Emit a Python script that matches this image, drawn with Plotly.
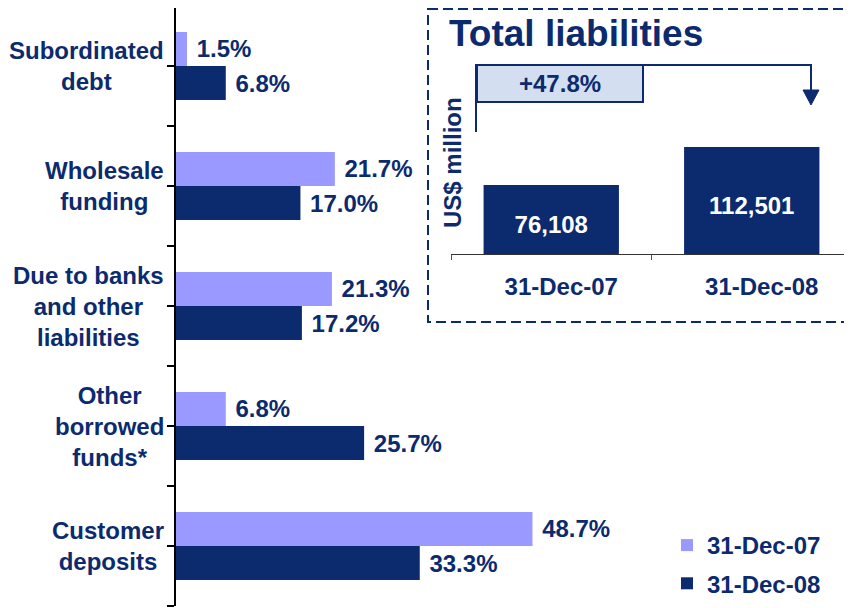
import plotly.graph_objects as go

# ---- data ----
categories = ["Subordinated<br>debt", "Wholesale<br>funding", "Due to banks<br>and other<br>liabilities",
              "Other<br>borrowed<br>funds*", "Customer<br>deposits"]
share_dec07 = [1.5, 21.7, 21.3, 6.8, 48.7]
share_dec08 = [6.8, 17.0, 17.2, 25.7, 33.3]
series_names = ["31-Dec-07", "31-Dec-08"]
total_dates = ["31-Dec-07", "31-Dec-08"]
total_liab = [76108, 112501]

NAVY = "#0C2A6E"
LIGHT = "#9999FF"
FONT = "Liberation Sans, Arial, sans-serif"

# page body has an 8px margin; the figure is sized to fill the rest of the window
OFF = 8
W, H = 852 - OFF, 608 - OFF
PLOT_L, PLOT_T, PLOT_B = 176, OFF, 606      # plot area edges in window pixels
PW, PH = 852 - PLOT_L, PLOT_B - PLOT_T

def px(x):
    return (x - PLOT_L) / PW

def py(y):
    return (PLOT_B - y) / PH

pos = list(range(len(categories)))
CAT_PX = 120.0

fig = go.Figure()
for name, vals, col in zip(series_names, [share_dec07, share_dec08], [LIGHT, NAVY]):
    fig.add_trace(go.Bar(
        y=pos, x=vals, orientation="h", name=name, legendgroup=name,
        marker=dict(color=col, line=dict(width=0)),
        text=[f" {v:.1f}%" for v in vals], textposition="outside",
        textfont=dict(family=FONT, size=24, color=NAVY, weight="bold"),
        constraintext="none", cliponaxis=False,
        xaxis="x", yaxis="y",
    ))

fig.add_trace(go.Bar(
    x=total_dates, y=total_liab, xaxis="x2", yaxis="y2", showlegend=False,
    marker=dict(color=NAVY, line=dict(width=0)), width=0.675,
    text=[f"{v:,}" for v in total_liab], textposition="inside", insidetextanchor="middle",
    textfont=dict(family=FONT, size=24, color="white", weight="bold"),
    constraintext="none",
))

ticks = [i * 0.5 - 0.5 for i in range(2 * len(categories) + 1)]

annotations = []
for p, c in zip(pos, categories):
    annotations.append(dict(
        x=px(166), xref="paper", y=p, yref="y", text=c, showarrow=False,
        xanchor="right", yanchor="middle", align="center",
        font=dict(family=FONT, size=24, color=NAVY, weight="bold"),
    ))

pct = (total_liab[1] / total_liab[0] - 1) * 100
annotations += [
    dict(x=px(447), y=py(34), xref="paper", yref="paper", text="Total liabilities",
         showarrow=False, xanchor="left", yanchor="middle",
         font=dict(family=FONT, size=37, color=NAVY, weight="bold")),
    dict(x=px(560), y=py(83), xref="paper", yref="paper", text=f"+{pct:.1f}%",
         showarrow=False, xanchor="center", yanchor="middle",
         font=dict(family=FONT, size=24, color=NAVY, weight="bold")),
    dict(x=px(452), y=py(163), xref="paper", yref="paper", text="US$ million",
         showarrow=False, textangle=-90, xanchor="center", yanchor="middle",
         font=dict(family=FONT, size=24, color=NAVY, weight="bold")),
]

shapes = [
    dict(type="rect", xref="paper", yref="paper", x0=px(428), x1=px(858), y0=py(9), y1=py(322),
         line=dict(color=NAVY, width=2, dash="10px,5px"), fillcolor="rgba(0,0,0,0)"),
    dict(type="path", xref="paper", yref="paper",
         path=f"M {px(476)},{py(132)} L {px(476)},{py(65)} L {px(811)},{py(65)} L {px(811)},{py(91)}",
         line=dict(color=NAVY, width=2)),
    dict(type="path", xref="paper", yref="paper",
         path=f"M {px(803)},{py(90)} L {px(819)},{py(90)} L {px(811)},{py(105)} Z",
         line=dict(color=NAVY, width=1), fillcolor=NAVY),
    dict(type="rect", xref="paper", yref="paper", x0=px(477), x1=px(643), y0=py(102), y1=py(65),
         line=dict(color=NAVY, width=2), fillcolor="#D3DFF0"),
]

# category axis: 120px per category, bottom boundary at window y=606
y_top = len(categories) - 0.5 - PH / CAT_PX

fig.update_layout(
    width=W, height=H,
    margin=dict(l=PLOT_L - OFF, r=0, t=PLOT_T - OFF, b=H - (PLOT_B - OFF), autoexpand=False),
    paper_bgcolor="white", plot_bgcolor="rgba(0,0,0,0)",
    font=dict(family=FONT, size=24, color=NAVY, weight="bold"),
    barmode="group", bargap=0.433, bargroupgap=0,
    xaxis=dict(domain=[0, 1], range=[0, 92.35], visible=False),
    yaxis=dict(domain=[0, 1], range=[len(categories) - 0.5, y_top], tickmode="array",
               tickvals=ticks, ticktext=[""] * len(ticks), ticks="outside", ticklen=7,
               tickwidth=2, tickcolor="black", showline=True, linecolor="black", linewidth=2,
               showgrid=False, zeroline=False),
    xaxis2=dict(domain=[px(451), 1], anchor="y2", type="category", showline=True,
                linecolor="#333333", linewidth=1, ticks="outside", tickson="boundaries",
                ticklen=5, tickcolor="#555555", tickwidth=1, showgrid=False,
                tickfont=dict(family=FONT, size=24, color=NAVY, weight="bold"),
                ticklabelshift=10, ticklabelstandoff=11),
    yaxis2=dict(domain=[py(254), py(20)], anchor="x2", range=[10028, 234128], visible=False),
    legend=dict(x=px(667), y=py(523), xanchor="left", yanchor="top", traceorder="grouped",
                tracegroupgap=4, bgcolor="rgba(0,0,0,0)", borderwidth=0,
                font=dict(family=FONT, size=24, color=NAVY, weight="bold")),
    showlegend=True,
    annotations=annotations, shapes=shapes,
)

fig.write_html("out.html")
